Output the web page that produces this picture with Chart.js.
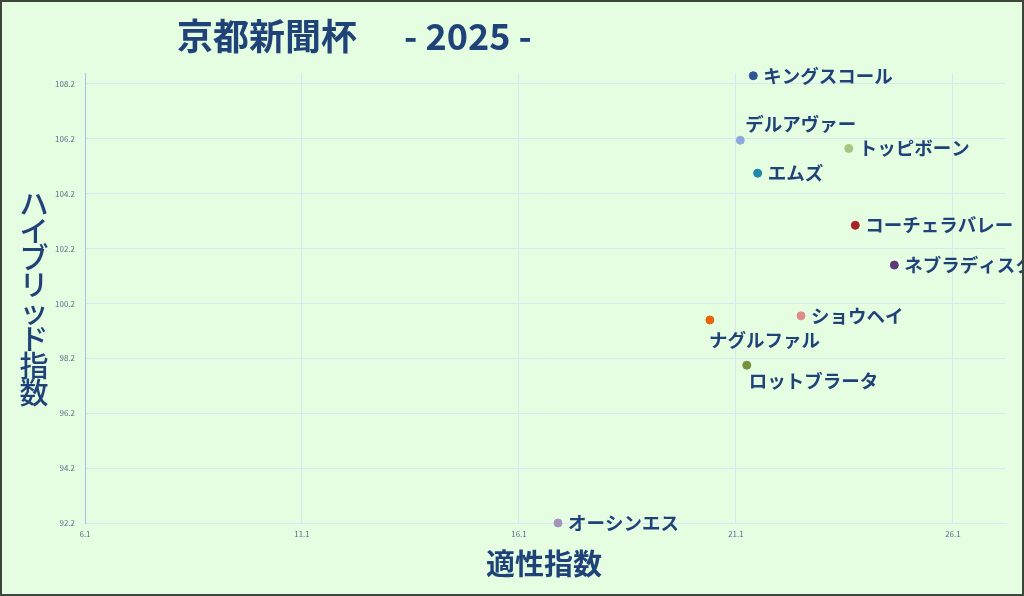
<!DOCTYPE html>
<html>
<head>
<meta charset="utf-8">
<script src="https://cdn.jsdelivr.net/npm/chart.js@4.4.1/dist/chart.umd.min.js"></script>
<style>
  html, body { margin: 0; padding: 0; background: #e5fde0; }
  .wrap { width: 1024px; height: 596px; position: relative; }
</style>
</head>
<body>
<div class="wrap"><canvas id="scatter"></canvas></div>
<script>
  // horses, x = 適性指数, y = ハイブリッド指数
  const names = ['キングスコール', 'デルアヴァー', 'トッピボーン', 'エムズ', 'コーチェラバレー',
    'ネブラディスク', 'ショウヘイ', 'ナグルファル', 'ロットブラータ', 'オーシンエス'];
  const tekisei = [21.5, 21.2, 23.7, 21.6, 23.85, 24.75, 22.6, 20.5, 21.35, 17.0];
  const hybrid = [108.5, 106.15, 105.85, 104.95, 103.05, 101.6, 99.75, 99.6, 97.95, 92.2];
  const xTicks = [6.1, 11.1, 16.1, 21.1, 26.1];
  const yTicks = [92.2, 94.2, 96.2, 98.2, 100.2, 102.2, 104.2, 106.2, 108.2];

  const colors = ['#2f5597', '#8eaadb', '#a9c47f', '#2088aa', '#a82323',
    '#5f3a78', '#e08b8b', '#e8650a', '#76923c', '#a594bc'];
  const navy = '#1f4278';
  const jp = '"Noto Sans CJK JP", "Noto Sans", sans-serif';

  // where each label goes relative to its point
  const place = {
    'デルアヴァー': [5, -16],
    'ナグルファル': [-1, 20],
    'ロットブラータ': [2, 16]
  };

  const points = names.map(function(n, i) {
    return { x: tekisei[i], y: hybrid[i], name: n };
  });

  const decor = {
    id: 'decor',
    beforeDraw(chart) {
      const ctx = chart.ctx;
      ctx.save();
      ctx.fillStyle = '#e5fde0';
      ctx.fillRect(0, 0, chart.width, chart.height);
      ctx.restore();
    },
    afterDraw(chart) {
      const ctx = chart.ctx;
      ctx.save();
      // title
      ctx.fillStyle = navy;
      ctx.font = 'bold 36px ' + jp;
      ctx.textBaseline = 'middle';
      ctx.textAlign = 'left';
      ctx.fillText('京都新聞杯', 177, 36);
      ctx.fillText('- 2025 -', 404, 36);

      // x title
      ctx.font = 'bold 29px ' + jp;
      ctx.textAlign = 'center';
      ctx.fillText('適性指数', 544, 564);

      // y title, stacked upright
      const yt = 'ハイブリッド指数';
      ctx.font = '500 29px ' + jp;
      for (let i = 0; i < yt.length; i++) {
        ctx.fillText(yt[i], 34, 204 + i * 27);
      }

      // point labels
      const meta = chart.getDatasetMeta(0);
      ctx.font = '600 18.5px ' + jp;
      ctx.textAlign = 'left';
      meta.data.forEach(function(el, i) {
        const p = place[names[i]] || [10, 0];
        ctx.fillText(names[i], el.x + p[0], el.y + p[1]);
      });

      // frame
      ctx.strokeStyle = '#3d463d';
      ctx.lineWidth = 2;
      ctx.strokeRect(1, 1, chart.width - 2, chart.height - 2);
      ctx.restore();
    }
  };

  const tickFont = { family: jp, size: 8 };

  new Chart(document.getElementById('scatter'), {
    type: 'scatter',
    data: {
      datasets: [{
        data: points,
        backgroundColor: colors,
        borderColor: colors,
        pointRadius: 4,
        pointHoverRadius: 4,
        clip: false
      }]
    },
    options: {
      responsive: true,
      maintainAspectRatio: false,
      animation: false,
      layout: { padding: { top: 73, right: 19, left: 0, bottom: 0 } },
      plugins: {
        legend: { display: false },
        tooltip: { enabled: false }
      },
      scales: {
        x: {
          type: 'linear',
          min: 6.1,
          max: 27.3,
          afterBuildTicks: function(s) { s.ticks = xTicks.map(v => ({ value: v })); },
          afterFit: function(s) { s.height = 73; },
          ticks: {
            color: '#5d6f8a',
            font: tickFont,
            padding: 6,
            maxRotation: 0,
            callback: v => v.toFixed(1)
          },
          grid: {
            color: c => c.index === 0 ? '#a3c1ec' : '#d8e8f2',
            lineWidth: 1,
            drawTicks: false
          },
          border: { color: '#d8e8f2' }
        },
        y: {
          type: 'linear',
          min: 92.2,
          max: 108.6,
          afterBuildTicks: function(s) { s.ticks = yTicks.map(v => ({ value: v })); },
          afterFit: function(s) { s.width = 85; },
          ticks: {
            color: '#5d6f8a',
            font: tickFont,
            padding: 10,
            callback: v => v.toFixed(1)
          },
          grid: { color: '#d8e8f2', lineWidth: 1, drawTicks: false },
          border: { color: '#a3c1ec' }
        }
      }
    },
    plugins: [decor]
  });
</script>
</body>
</html>
